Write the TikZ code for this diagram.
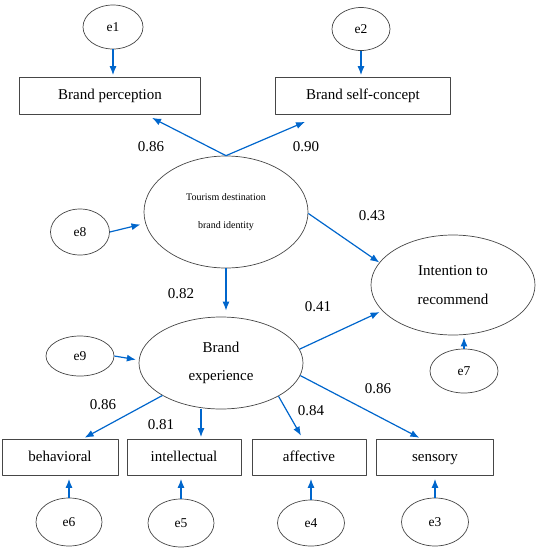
\documentclass[tikz,border=0pt]{standalone}
\usepackage{fontspec}
\setmainfont{Liberation Serif}
\usetikzlibrary{positioning,shapes.geometric,arrows.meta}
\definecolor{pathblue}{RGB}{0,102,204}
\definecolor{framegray}{RGB}{70,70,70}

\begin{document}
\begin{tikzpicture}[x=1pt,y=-1pt,line join=round,>={Latex[length=9pt,width=7pt]},
  obsbox/.style={draw=framegray,line width=0.7pt,rectangle,inner sep=0pt,minimum height=36pt,text height=10.5pt,text depth=3pt,font=\rmfamily\fontsize{15}{18}\selectfont},
  latent/.style={draw=framegray,line width=0.7pt,ellipse,inner sep=0pt,align=center,minimum width=164pt,font=\rmfamily\fontsize{15}{18}\selectfont},
  errterm/.style={draw=framegray,line width=0.7pt,ellipse,inner sep=0pt,font=\rmfamily\fontsize{13.5}{16}\selectfont},
  blueline/.style={->,draw=pathblue,line width=1.2pt},
  coef/.style={font=\rmfamily\fontsize{15}{18}\selectfont}]
                \useasboundingbox (0,0) rectangle (537,550);
                % measurement part, top
                \node[errterm,minimum width=60pt,minimum height=44pt] (e1) at (113,27) {e1};
                \node[errterm,minimum width=58pt,minimum height=43pt] (e2) at (361,29) {e2};
                \node[obsbox,minimum width=181pt,minimum height=37pt] (bperc) at (110,96) {Brand perception};
                \node[obsbox,minimum width=175pt,minimum height=37pt] (bself) at (363,96) {Brand self-concept};
                % latent variables
                \node[latent,minimum height=112pt,font=\rmfamily\fontsize{10}{12}\selectfont] (tdbi) at (226,212) {Tourism destination\\[16pt]brand identity};
                \node[errterm,minimum width=59pt,minimum height=46pt] (e8) at (80,232) {e8};
                \node[latent,minimum height=100pt] (itr) at (453,285) {Intention to\\[11pt]recommend};
                \node[latent,minimum height=92pt] (bexp) at (221,363) {Brand\\[10pt]experience};
                \node[errterm,minimum width=68pt,minimum height=40pt] (e9) at (80,356) {e9};
                \node[errterm,minimum width=68pt,minimum height=44pt] (e7) at (464,371) {e7};
                % measurement part, bottom
                \node[obsbox,minimum width=116pt] (beh) at (60,457.5) {behavioral};
                \node[obsbox,minimum width=114pt] (ints) at (184,457.5) {intellectual};
                \node[obsbox,minimum width=114pt] (aff) at (309,457.5) {affective};
                \node[obsbox,minimum width=117pt] (sens) at (435,457.5) {sensory};
                \node[errterm,minimum width=66pt,minimum height=48pt] (e6) at (69,522) {e6};
                \node[errterm,minimum width=66pt,minimum height=48pt] (e5) at (181,523) {e5};
                \node[errterm,minimum width=67pt,minimum height=46pt] (e4) at (311,523) {e4};
                \node[errterm,minimum width=67pt,minimum height=48pt] (e3) at (435,522) {e3};
                % coefficients
                \node[coef] (c1) at (151,147) {0.86};
                \node[coef] (c2) at (306,147) {0.90};
                \node[coef] (c3) at (372,216) {0.43};
                \node[coef] (c4) at (181,294) {0.82};
                \node[coef] (c5) at (318,307) {0.41};
                \node[coef] (c6) at (103,405) {0.86};
                \node[coef] (c7) at (161,425) {0.81};
                \node[coef] (c8) at (311,411) {0.84};
                \node[coef] (c9) at (378,389) {0.86};
                % paths
                \draw[blueline,shorten >=2pt] (e1) -- (e1 |- bperc.north);
                \draw[blueline,shorten >=2pt] (e2.south) -- (e2.south |- bself.north);
                \draw[blueline] (tdbi.north) -- ([xshift=42pt,yshift=-3pt]bperc.south);
                \draw[blueline] (tdbi.north) -- ([xshift=-58pt,yshift=-7pt]bself.south);
                \draw[blueline,shorten >=5pt] (e8.east) -- (tdbi.188);
                \draw[blueline] (tdbi.-1) -- (itr.163);
                \draw[blueline,shorten >=6pt] (tdbi.south) -- (tdbi.south |- bexp.north);
                \draw[blueline,shorten >=3pt] (bexp.10) -- (itr.200);
                \draw[blueline,shorten >=3pt] (e9.east) -- (bexp.178);
                \draw[blueline,shorten >=2pt] (e7.north) -- (e7.north |- itr.south);
                \draw[blueline,shorten >=3pt] (bexp.209) -- ([xshift=22pt]beh.north);
                \coordinate (intstop) at ([xshift=17pt]ints.north);
                \draw[blueline,shorten >=2pt] (intstop |- bexp.south) -- (intstop);
                \draw[blueline,shorten >=4pt] (bexp.330) -- ([xshift=-6pt]aff.north);
                \draw[blueline,shorten >=3pt] (bexp.351) -- ([xshift=-13pt]sens.north);
                \draw[blueline,shorten >=3pt] (e6.north) -- (e6.north |- beh.south);
                \draw[blueline,shorten >=3pt] (e5.north) -- (e5.north |- ints.south);
                \draw[blueline,shorten >=3pt] (e4.north) -- (e4.north |- aff.south);
                \draw[blueline,shorten >=3pt] (e3.north) -- (e3.north |- sens.south);
\end{tikzpicture}
\end{document}
